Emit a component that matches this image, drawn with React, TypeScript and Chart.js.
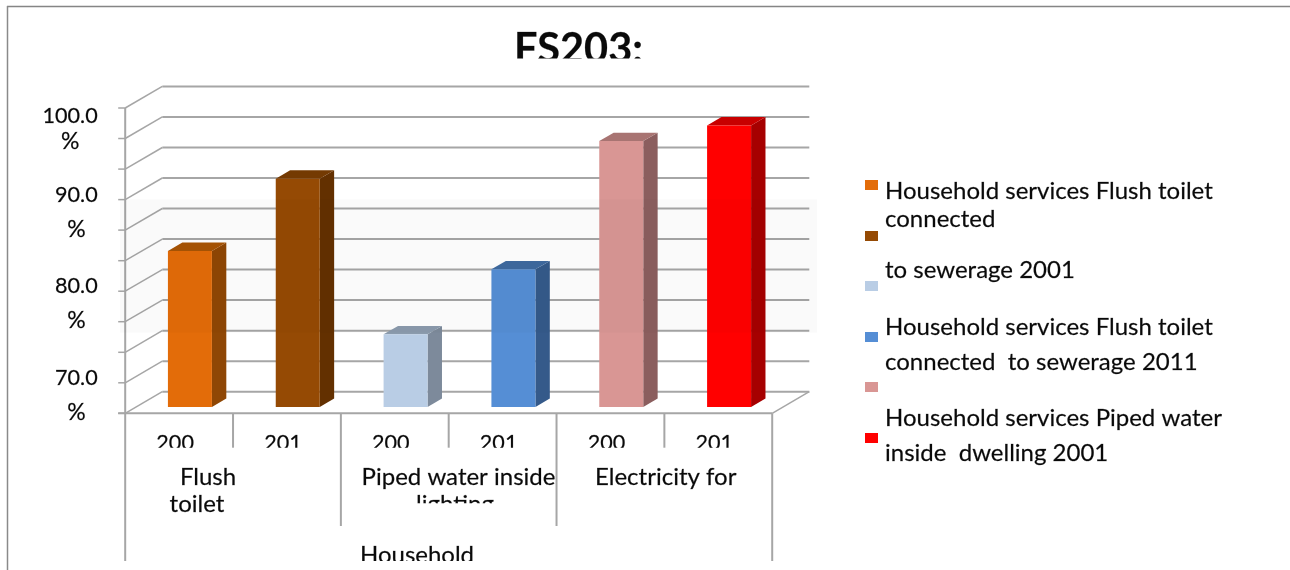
import React, { useEffect, useRef } from "react";
import { Chart, registerables, Plugin } from "chart.js";

Chart.register(...registerables);

const categories = ["200", "201", "200", "201", "200", "201"];
const values = [83.7, 91.6, 74.6, 81.7, 95.7, 97.4];
const gridValues = [100, 96.67, 93.33, 90, 86.67, 83.33, 80, 76.67, 73.33, 70, 66.67];
const labelledTicks = ["100.0", "90.0", "80.0", "70.0"];
const labelledValues = [100, 90, 80, 70];
const groupLabels = ["Flush", "toilet", "Piped water inside", "lighting", "Electricity for", "Household"];
const legendLabels = [
  "Household services Flush toilet",
  "connected",
  "to sewerage 2001",
  "Household services Flush toilet",
  "connected  to sewerage 2011",
  "Household services Piped water",
  "inside  dwelling 2001",
];
const titleText = "FS203:";

const faceColors = ["#E36C09", "#954A04", "#B9CDE5", "#558ED5", "#D99694", "#FF0000"];
const sideColors = ["#8F4705", "#633000", "#7D8A9B", "#355A8A", "#8B5E5E", "#A60000"];
const topColors = ["#A85405", "#743A02", "#8B9BAD", "#3F6A9F", "#A87472", "#C80000"];

const FRONT = { dx: -10.8, dy: 6.3 };
const BACK = { dx: 26.3, dy: -15.3 };
const BAR_DEPTH = { dx: 14.4, dy: -8.4 };
const LINE = "#A6A6A6";
const FONT = "Lato, 'Noto Sans', sans-serif";
const NUM_FONT = `21.6px ${FONT}`;
const WORD_FONT = `24px ${FONT}`;

function line(ctx: CanvasRenderingContext2D, x1: number, y1: number, x2: number, y2: number, w = 2, c = LINE) {
  ctx.strokeStyle = c;
  ctx.lineWidth = w;
  ctx.beginPath();
  ctx.moveTo(x1, y1);
  ctx.lineTo(x2, y2);
  ctx.stroke();
}

function poly(ctx: CanvasRenderingContext2D, pts: number[][], c: string) {
  ctx.fillStyle = c;
  ctx.beginPath();
  pts.forEach((p, i) => (i ? ctx.lineTo(p[0], p[1]) : ctx.moveTo(p[0], p[1])));
  ctx.closePath();
  ctx.fill();
}

function text(
  ctx: CanvasRenderingContext2D,
  s: string,
  x: number,
  y: number,
  align: CanvasTextAlign = "center",
  clipY?: number,
  font = WORD_FONT
) {
  ctx.save();
  if (clipY !== undefined) {
    ctx.beginPath();
    ctx.rect(0, 0, 1290, clipY);
    ctx.clip();
  }
  ctx.font = font;
  ctx.fillStyle = "#0a0a0a";
  ctx.strokeStyle = "rgba(10,10,10,0.55)";
  ctx.lineWidth = 0.35;
  ctx.textAlign = align;
  ctx.textBaseline = "alphabetic";
  ctx.fillText(s, x, y);
  ctx.strokeText(s, x, y);
  ctx.restore();
}

const scene: Plugin<"bar"> = {
  id: "scene",
  beforeDatasetsDraw(chart) {
    const { ctx, scales, chartArea } = chart;
    const y = scales.y;
    const L = chartArea.left;
    const R = chartArea.right;
    const step = (R - L) / categories.length;
    ctx.save();
    // frame
    line(ctx, 7, 6.5, 1290, 6.5, 1.5, "#858585");
    line(ctx, 7.5, 6, 7.5, 570, 1.5, "#8A8A8A");

    // back wall + side wall gridlines
    gridValues.forEach((v) => {
      const py = y.getPixelForValue(v);
      line(ctx, L + BACK.dx, py + BACK.dy, R + BACK.dx, py + BACK.dy);
      line(ctx, L + FRONT.dx, py + FRONT.dy, L + BACK.dx, py + BACK.dy, 1.5);
      line(ctx, L + FRONT.dx - 7, py + FRONT.dy, L + FRONT.dx, py + FRONT.dy, 1.5);
    });
    const top = y.getPixelForValue(100) + FRONT.dy;
    const bot = y.getPixelForValue(gridValues[gridValues.length - 1]) + FRONT.dy;
    // front axis + floor
    line(ctx, L + FRONT.dx, top, L + FRONT.dx, bot);
    line(ctx, L + FRONT.dx - 7, bot, R + FRONT.dx, bot);
    line(ctx, R + FRONT.dx, bot, R + BACK.dx, bot + BACK.dy - FRONT.dy, 1.5);

    // multi-level category dividers
    for (let i = 0; i <= categories.length; i++) {
      const px = L + FRONT.dx + step * i;
      const end = i === 0 || i === categories.length ? 561 : i % 2 === 0 ? 526 : 447.7;
      line(ctx, px, bot, px, end);
    }

    // 3D sides and tops of the bars
    const bars = chart.getDatasetMeta(0).data as any[];
    bars.forEach((b, i) => {
      const hw = b.width / 2;
      const xr = b.x + hw;
      const xl = b.x - hw;
      const base = Math.min(b.base, chartArea.bottom);
      const d = BAR_DEPTH;
      poly(ctx, [[xr, b.y], [xr + d.dx, b.y + d.dy], [xr + d.dx, base + d.dy], [xr, base]], sideColors[i]);
      poly(ctx, [[xl, b.y], [xl + d.dx, b.y + d.dy], [xr + d.dx, b.y + d.dy], [xr, b.y]], topColors[i]);
    });
    ctx.restore();
  },
  afterDraw(chart) {
    const { ctx, scales, chartArea } = chart;
    const y = scales.y;
    const L = chartArea.left;
    const R = chartArea.right;
    const step = (R - L) / categories.length;
    ctx.save();
    // translucent band lying over the plot
    ctx.fillStyle = "rgba(0,0,0,0.018)";
    ctx.fillRect(120, 199.3, 697, 133.3);

    // title, cut off below
    text(ctx, titleText, 578.5, 63, "center", 58.5, `bold 41.5px ${FONT}`);

    // value labels
    const gapFirst = 26.6;
    const gap = 35.2;
    labelledValues.forEach((v, i) => {
      const py = y.getPixelForValue(v) + FRONT.dy;
      const base = py + (i === 0 ? 14.7 : 2.1);
      ctx.font = NUM_FONT;
      const w = ctx.measureText(labelledTicks[i]).width;
      const cx = 97.7 - w / 2;
      text(ctx, labelledTicks[i], cx, base, "center", undefined, NUM_FONT);
      text(ctx, "%", cx, base + (i === 0 ? gapFirst : gap), "center", undefined, `23px ${FONT}`);
    });

    // year labels, cut off
    categories.forEach((c, i) => {
      const px = L + FRONT.dx + step * (i + 0.5) - 4;
      text(ctx, c, px, 449.5, "center", 447.7, NUM_FONT);
    });

    // group labels
    text(ctx, groupLabels[0], 208, 485);
    text(ctx, groupLabels[1], 197, 511.7);
    text(ctx, groupLabels[2], 458.5, 485);
    text(ctx, groupLabels[3], 455, 512, "center", 503.3);
    text(ctx, groupLabels[4], 665.7, 485);
    text(ctx, groupLabels[5], 417, 562.5, "center", 561);

    // legend
    const swY = [180, 231, 281, 332, 382, 433];
    swY.forEach((sy, i) => {
      ctx.fillStyle = faceColors[i];
      ctx.fillRect(865, sy, 13, 10);
    });
    const lgY = [199.3, 226.7, 278.3, 335, 370, 426, 461];
    legendLabels.forEach((s, i) => text(ctx, s, 885, lgY[i], "left"));
    ctx.restore();
  },
};

export default function App() {
  const ref = useRef<HTMLCanvasElement>(null);
  useEffect(() => {
    document.body.style.margin = "0";
    document.body.style.background = "#fff";
    const chart = new Chart(ref.current!, {
      type: "bar",
      data: {
        labels: categories,
        datasets: [
          {
            data: values,
            backgroundColor: faceColors,
            borderWidth: 0,
            barPercentage: 0.408,
            categoryPercentage: 1,
          },
        ],
      },
      options: {
        responsive: false,
        animation: false,
        layout: { padding: { left: 136, right: 507, top: 101.7, bottom: 163 } },
        plugins: { legend: { display: false }, title: { display: false }, tooltip: { enabled: false } },
        scales: {
          x: { display: false },
          y: { display: false, min: 66.67, max: 100 },
        },
      },
      plugins: [scene],
    });
    return () => chart.destroy();
  }, []);
  return <canvas ref={ref} width={1290} height={570} style={{ display: "block", width: 1290, height: 570 }} />;
}
